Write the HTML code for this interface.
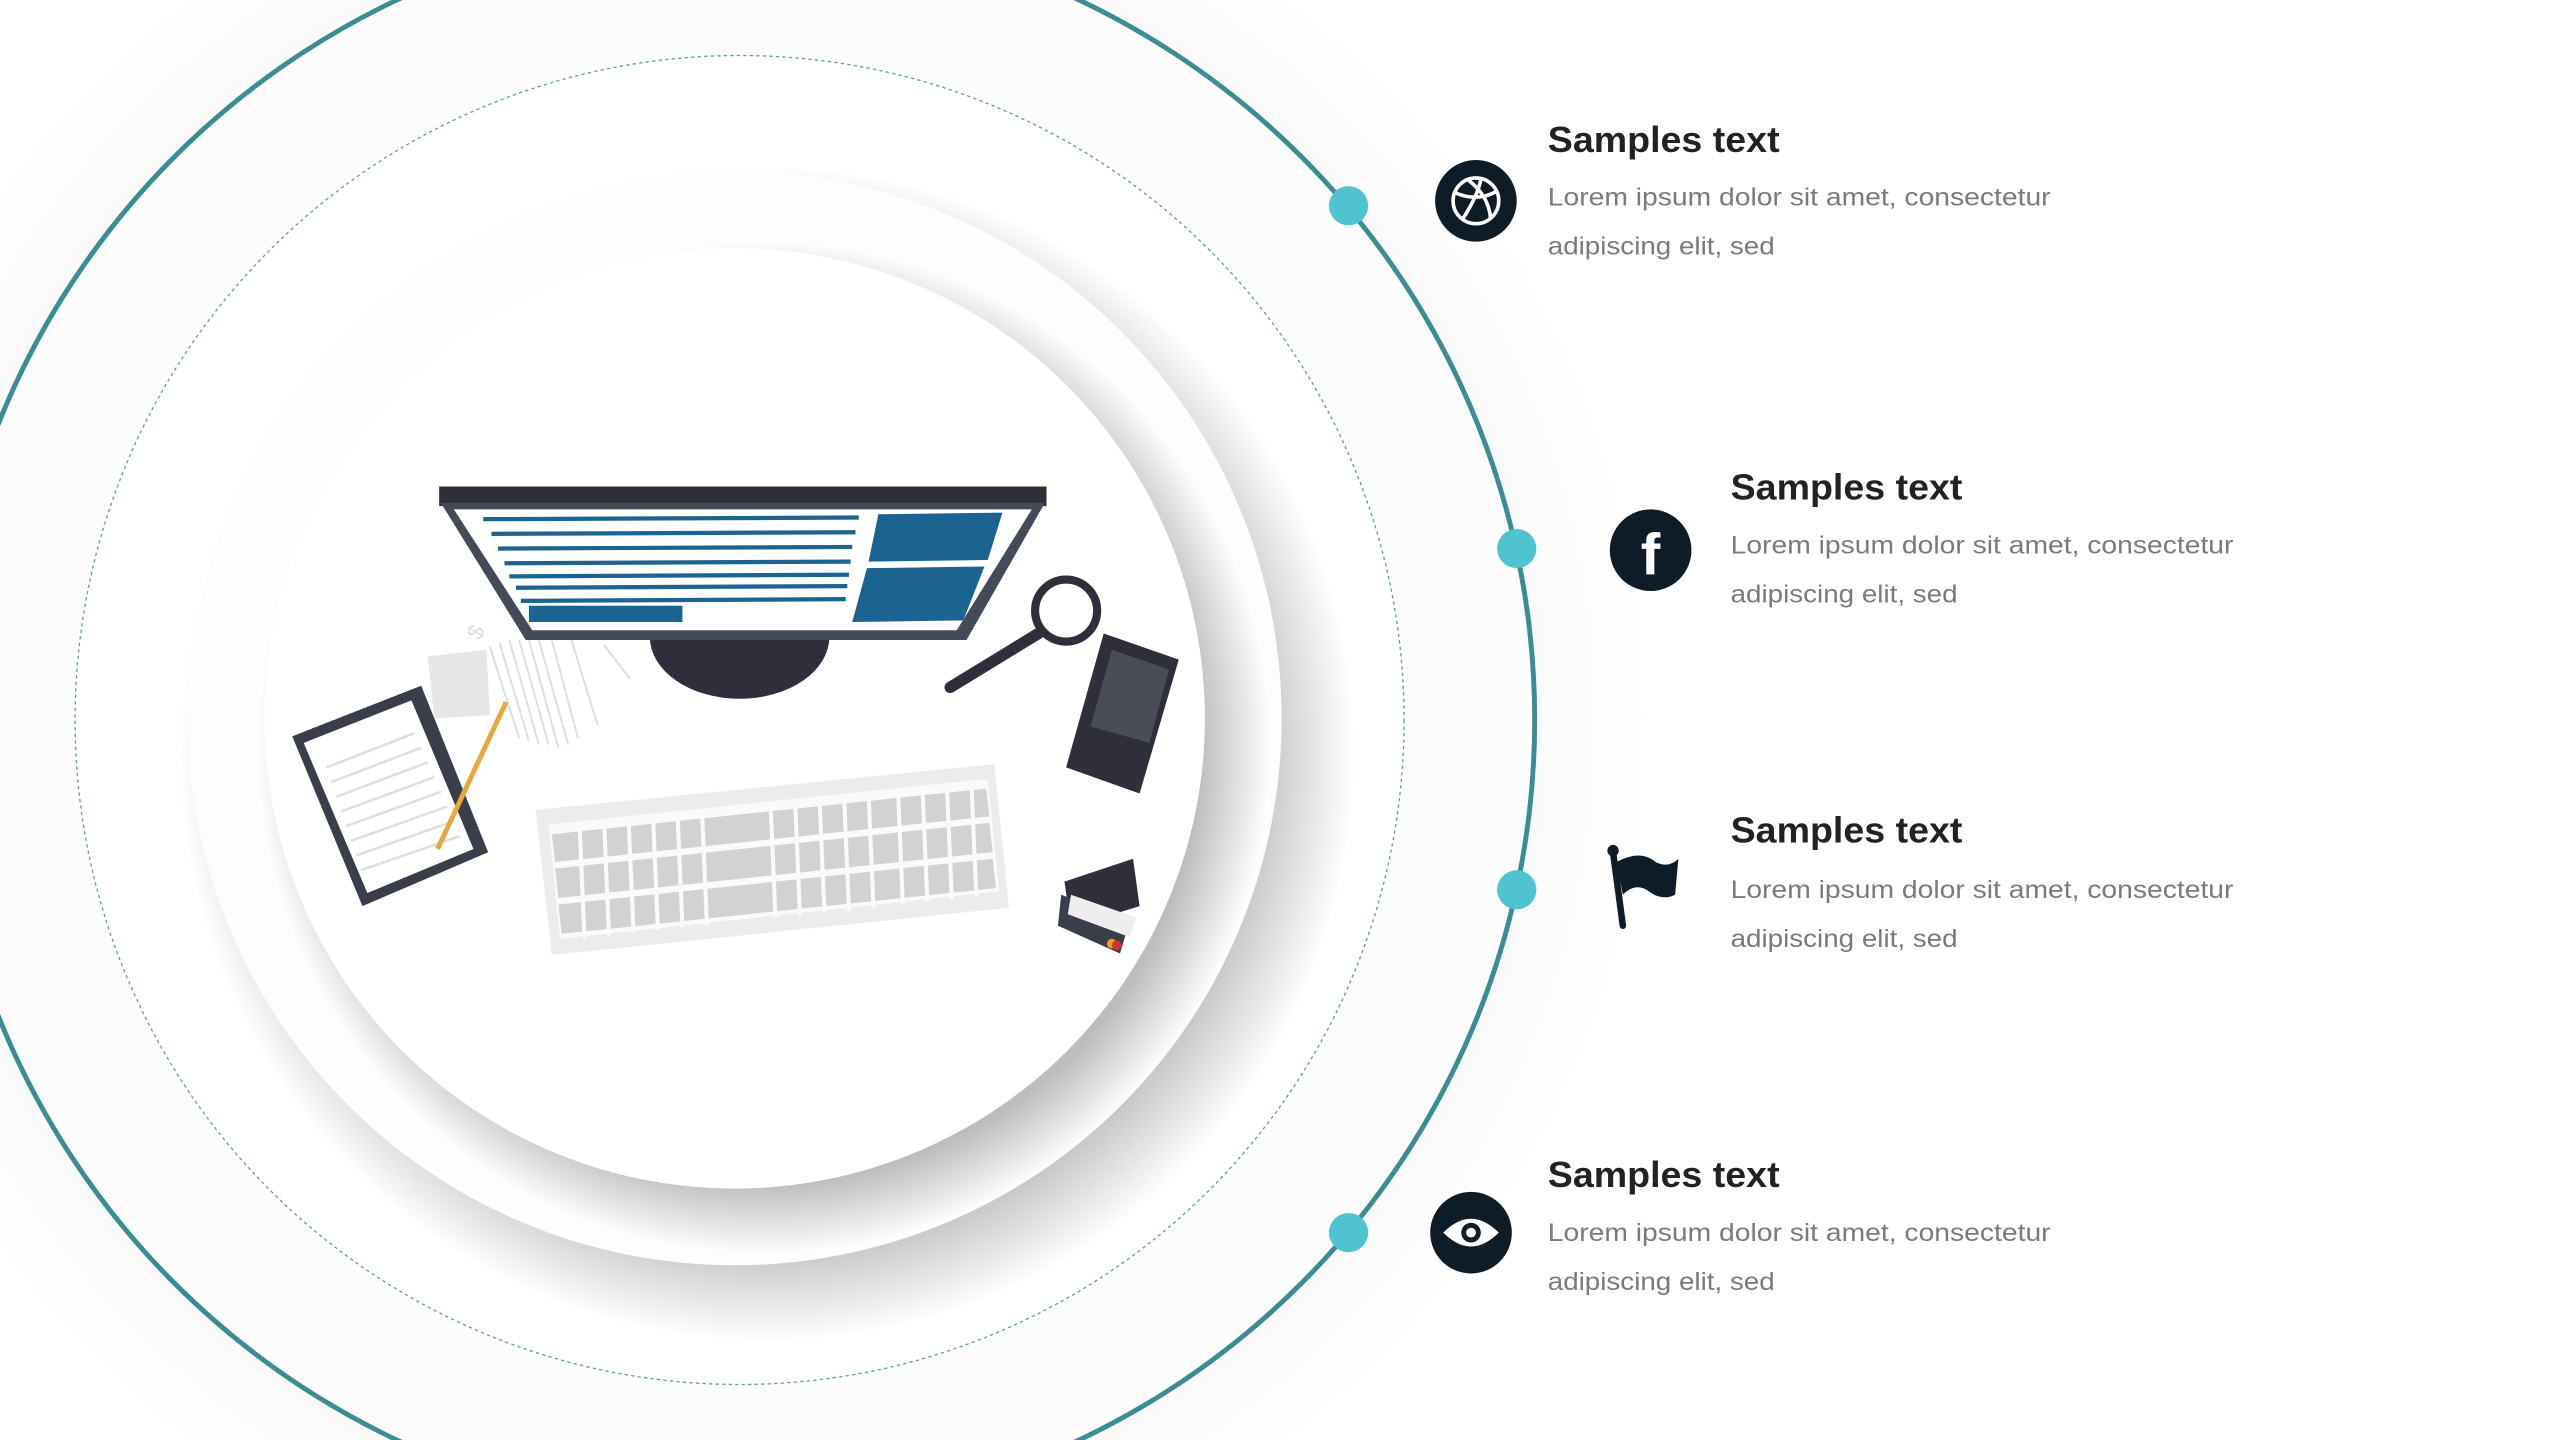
<!DOCTYPE html>
<html><head><meta charset="utf-8"><style>
html,body{margin:0;padding:0;background:#fff;width:2560px;height:1440px;overflow:hidden;}
svg{display:block;overflow:hidden;}
text{font-family:"Liberation Sans",sans-serif;}
</style></head><body>
<svg width="2560" height="1440" viewBox="0 0 1568 882" xmlns="http://www.w3.org/2000/svg">
<defs>
<clipPath id="frame"><rect width="1568" height="882"/></clipPath>
<radialGradient id="halo" cx="452" cy="441" r="560" gradientUnits="userSpaceOnUse">
<stop offset="0.72" stop-color="#f2f2f2"/><stop offset="0.87" stop-color="#fafafa"/><stop offset="1" stop-color="#fff"/>
</radialGradient>
<radialGradient id="sh1" cx="470" cy="462" r="360" gradientUnits="userSpaceOnUse">
<stop offset="0.85" stop-color="#c8c8c8"/><stop offset="1" stop-color="#c8c8c8" stop-opacity="0"/>
</radialGradient>
<radialGradient id="sh2" cx="468" cy="458" r="310" gradientUnits="userSpaceOnUse">
<stop offset="0.86" stop-color="#bdbdbd"/><stop offset="1" stop-color="#bdbdbd" stop-opacity="0"/>
</radialGradient>
</defs>
<g clip-path="url(#frame)">
<rect width="1568" height="882" fill="#fff"/>
<circle cx="452" cy="441" r="560" fill="url(#halo)"/>
<circle cx="452" cy="441" r="488" fill="#fcfcfc"/>
<circle cx="453" cy="441" r="407" fill="#fff" stroke="#5aa0a0" stroke-width="0.8" stroke-dasharray="2 2"/>
<circle cx="470" cy="462" r="360" fill="url(#sh1)"/>
<circle cx="450" cy="440" r="335" fill="#fdfdfd"/>
<circle cx="468" cy="458" r="310" fill="url(#sh2)"/>
<circle cx="450" cy="440" r="288" fill="#fff"/>
<circle cx="452" cy="441" r="488" fill="none" stroke="#3a8d92" stroke-width="3"/>
<g fill="#4fc3cf"><circle cx="826" cy="126" r="12"/><circle cx="929" cy="336" r="12"/><circle cx="929" cy="545" r="12"/><circle cx="826" cy="755" r="12"/></g>

<g>
<polygon points="262,402 298,398 300,438 266,440" fill="#e6e6e6"/>
<g stroke="#ddd" stroke-width="1.2"><line x1="300" y1="396" x2="318" y2="452"/><line x1="306" y1="394" x2="324" y2="454"/><line x1="312" y1="392" x2="330" y2="456"/><line x1="318" y1="392" x2="336" y2="456"/><line x1="324" y1="392" x2="342" y2="458"/><line x1="330" y1="392" x2="348" y2="456"/><line x1="338" y1="392" x2="354" y2="452"/><line x1="350" y1="392" x2="366" y2="444"/><line x1="370" y1="395" x2="386" y2="416"/></g>
<text x="285" y="392" font-size="14" fill="#ddd" transform="rotate(-60 290 385)">$</text>
<path d="M398,390 A55,38 0 0 0 508,390 Z" fill="#2e2f3a"/>
<polygon points="269,298 641,298 641,310 269,310" fill="#2e2f3a"/>
<polygon points="270,308 640,308 592,392 322,392" fill="#454a58"/>
<polygon points="278,312 632,312 586,386 326,386" fill="#fff"/>
<g stroke="#1b6390" stroke-width="2.6"><line x1="296" y1="318" x2="526" y2="317"/><line x1="301" y1="327" x2="524" y2="326"/><line x1="305" y1="336" x2="522" y2="335"/><line x1="309" y1="345" x2="521" y2="344"/><line x1="312" y1="353" x2="520" y2="352"/><line x1="316" y1="360" x2="519" y2="359"/><line x1="319" y1="368" x2="518" y2="367"/></g>
<rect x="324" y="371" width="94" height="10" fill="#1b6390"/>
<polygon points="538,315 614,314 605,343 532,344" fill="#1b6390"/>
<polygon points="531,348 603,347 590,380 522,381" fill="#1b6390"/>
<circle cx="653" cy="374" r="19" fill="none" stroke="#2e2f3a" stroke-width="5"/>
<line x1="636" y1="388" x2="582" y2="421" stroke="#2e2f3a" stroke-width="7" stroke-linecap="round"/>
<polygon points="676,388 722,404 698,486 653,470" fill="#2e2f3a"/>
<polygon points="681,398 716,410 704,455 668,445" fill="#4a4d58"/>
<polygon points="179,451 258,420 299,522 222,555" fill="#3a3d4a"/>
<polygon points="186,455 252,429 290,520 225,547" fill="#fff"/>
<g stroke="#ddd" stroke-width="1.5"><line x1="200" y1="470" x2="254" y2="449"/><line x1="203" y1="479" x2="258" y2="458"/><line x1="206" y1="488" x2="262" y2="467"/><line x1="209" y1="497" x2="266" y2="476"/><line x1="212" y1="506" x2="270" y2="485"/><line x1="215" y1="515" x2="274" y2="494"/><line x1="218" y1="524" x2="278" y2="503"/><line x1="221" y1="533" x2="282" y2="512"/></g>
<line x1="188" y1="449" x2="252" y2="424" stroke="#3a3d4a" stroke-width="3" stroke-dasharray="2 2"/>
<line x1="310" y1="430" x2="268" y2="520" stroke="#e8a93a" stroke-width="3"/>
<polygon points="328,496 609,468 618,556 338,585" fill="#ececec"/>
<polygon points="336,505 605,477 612,546 343,575" fill="#fafafa"/>
<g fill="#d2d2d2">
<polygon points="338,511 604,483 606,500 340,528"/>
<polygon points="340,532 606,504 608,522 342,550"/>
<polygon points="342,554 608,526 610,544 344,572"/>
</g>
<g stroke="#fafafa" stroke-width="2.5">
<line x1="355" y1="505" x2="358" y2="575"/><line x1="370" y1="503" x2="373" y2="573"/><line x1="385" y1="502" x2="388" y2="571"/><line x1="400" y1="500" x2="403" y2="570"/><line x1="415" y1="499" x2="418" y2="568"/><line x1="430" y1="497" x2="433" y2="567"/><line x1="472" y1="493" x2="475" y2="562"/><line x1="487" y1="491" x2="490" y2="561"/><line x1="502" y1="490" x2="505" y2="559"/><line x1="517" y1="488" x2="520" y2="558"/><line x1="532" y1="486" x2="535" y2="556"/><line x1="550" y1="484" x2="553" y2="554"/><line x1="565" y1="483" x2="568" y2="552"/><line x1="580" y1="481" x2="583" y2="551"/><line x1="595" y1="480" x2="598" y2="549"/>
</g>
<polygon points="652,540 694,526 698,555 656,568" fill="#2e2f3a"/>
<polygon points="650,548 692,564 686,584 648,567" fill="#3a3d4a"/>
<polygon points="656,548 696,562 692,574 654,560" fill="#eee"/>
<circle cx="681" cy="578" r="3" fill="#e8a020"/><circle cx="684" cy="579" r="3" fill="#d03030"/>
</g>

<g>
<circle cx="904" cy="123" r="25" fill="#0e1c27"/>
<g fill="none" stroke="#fff" stroke-width="2.2"><circle cx="904" cy="123" r="14"/><path d="M891,118 Q905,124 917,117"/><path d="M896,134 Q905,120 907,110"/><path d="M899,110 Q912,120 913,134"/></g>
<text x="948" y="93" font-size="22" font-weight="bold" fill="#222" textLength="142" lengthAdjust="spacingAndGlyphs">Samples text</text>
<text x="948" y="126" font-size="15.5" fill="#7a7a7a" textLength="308" lengthAdjust="spacingAndGlyphs">Lorem ipsum dolor sit amet, consectetur</text>
<text x="948" y="156" font-size="15.5" fill="#7a7a7a" textLength="139" lengthAdjust="spacingAndGlyphs">adipiscing elit, sed</text>

<circle cx="1011" cy="337" r="25" fill="#0e1c27"/>
<text x="1011" y="352" font-size="36" font-weight="bold" fill="#fff" text-anchor="middle">f</text>
<text x="1060" y="306" font-size="22" font-weight="bold" fill="#222" textLength="142" lengthAdjust="spacingAndGlyphs">Samples text</text>
<text x="1060" y="339" font-size="15.5" fill="#7a7a7a" textLength="308" lengthAdjust="spacingAndGlyphs">Lorem ipsum dolor sit amet, consectetur</text>
<text x="1060" y="369" font-size="15.5" fill="#7a7a7a" textLength="139" lengthAdjust="spacingAndGlyphs">adipiscing elit, sed</text>

<line x1="988" y1="522" x2="994" y2="567" stroke="#0e1c27" stroke-width="4" stroke-linecap="round"/>
<circle cx="988" cy="521" r="3.5" fill="#0e1c27"/>
<path d="M990,528 Q1005,520 1014,528 Q1022,532 1028,526 L1026,548 Q1018,552 1010,546 Q1002,540 994,548 Z" fill="#0e1c27"/>
<text x="1060" y="516" font-size="22" font-weight="bold" fill="#222" textLength="142" lengthAdjust="spacingAndGlyphs">Samples text</text>
<text x="1060" y="550" font-size="15.5" fill="#7a7a7a" textLength="308" lengthAdjust="spacingAndGlyphs">Lorem ipsum dolor sit amet, consectetur</text>
<text x="1060" y="580" font-size="15.5" fill="#7a7a7a" textLength="139" lengthAdjust="spacingAndGlyphs">adipiscing elit, sed</text>

<circle cx="901" cy="755" r="25" fill="#0e1c27"/>
<path d="M884,755 Q901,738 918,755 Q901,772 884,755 Z" fill="#fff"/>
<circle cx="901" cy="755" r="6" fill="#0e1c27"/><circle cx="901" cy="755" r="3" fill="#fff"/>
<text x="948" y="727" font-size="22" font-weight="bold" fill="#222" textLength="142" lengthAdjust="spacingAndGlyphs">Samples text</text>
<text x="948" y="760" font-size="15.5" fill="#7a7a7a" textLength="308" lengthAdjust="spacingAndGlyphs">Lorem ipsum dolor sit amet, consectetur</text>
<text x="948" y="790" font-size="15.5" fill="#7a7a7a" textLength="139" lengthAdjust="spacingAndGlyphs">adipiscing elit, sed</text>
</g>
</g>
</svg>
</body></html>
